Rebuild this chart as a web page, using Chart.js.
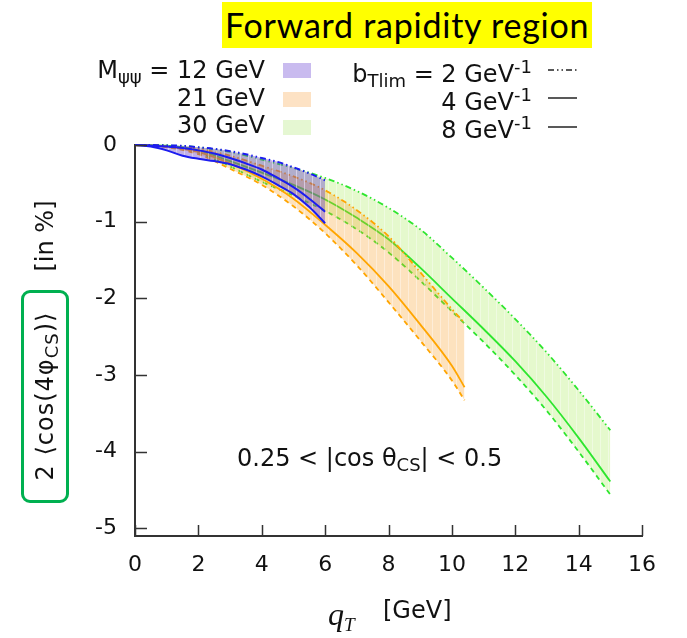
<!DOCTYPE html>
<html>
<head>
<meta charset="utf-8">
<script src="https://cdn.jsdelivr.net/npm/chart.js@4.4.0/dist/chart.umd.min.js"></script>
<style>
    html, body { margin: 0; padding: 0; background: #fff; }
    #wrap {
        position: relative; width: 687px; height: 638px; overflow: hidden;
        font-family: "DejaVu Sans", sans-serif; color: #111;
    }
    #chart { position: absolute; left: 0; top: 0; }
    .t { position: absolute; white-space: nowrap; font-size: 24px; line-height: 28px; }
    .t sub { font-size: 0.75em; vertical-align: -0.3em; line-height: 0; }
    .t sup { font-size: 0.75em; vertical-align: 0.5em; line-height: 0; }
    .title {
        position: absolute; left: 222px; top: 2px; height: 46px; line-height: 46px;
        padding: 0 3px; background: #ffff00; color: #000;
        font-family: Lato, "Open Sans", sans-serif; font-size: 34px; letter-spacing: 0.75px;
    }
    .swatch { position: absolute; left: 283px; width: 28px; height: 15px; }
    .rot { transform: translate(-50%, -50%) rotate(-90deg); }
    .ybox {
        position: absolute; left: 21px; top: 290px; width: 42px; height: 207px;
        border: 3px solid #00b050; border-radius: 9px;
    }
    .qt { font-family: "Liberation Serif", serif; font-style: italic; font-size: 32px; }
    .qt sub { font-size: 0.6em; vertical-align: -0.3em; }
    #keys { position: absolute; left: 0; top: 0; }
</style>
</head>
<body>
<div id="wrap">
    <canvas id="chart" width="687" height="638"></canvas>

    <div class="title">Forward rapidity region</div>

    <!-- mass legend -->
    <div class="t" style="right:422px;top:56px">M<sub>ψψ</sub> = 12 GeV</div>
    <div class="t" style="right:422px;top:84px">21 GeV</div>
    <div class="t" style="right:422px;top:111px">30 GeV</div>
    <div class="swatch" style="top:63px;background:#c9bbef"></div>
    <div class="swatch" style="top:92px;background:#fde2c4"></div>
    <div class="swatch" style="top:120px;background:#e5f7d2"></div>

    <!-- bTlim legend -->
    <div class="t" style="right:155px;top:60px">b<sub>Tlim</sub> = 2 GeV<sup>-1</sup></div>
    <div class="t" style="right:155px;top:88px">4 GeV<sup>-1</sup></div>
    <div class="t" style="right:155px;top:116px">8 GeV<sup>-1</sup></div>
    <svg id="keys" width="687" height="160">
        <line x1="548" y1="70" x2="577" y2="70" stroke="#222" stroke-width="1.5" stroke-dasharray="6 3 1.5 3 1.5 3"/>
        <line x1="548" y1="98" x2="577" y2="98" stroke="#222" stroke-width="1.5"/>
        <line x1="548" y1="127" x2="577" y2="127" stroke="#222" stroke-width="1.5"/>
    </svg>

    <!-- axis titles -->
    <div class="ybox"></div>
    <div class="t rot" style="left:45px;top:396px;letter-spacing:1px">2 ⟨cos(4φ<sub>CS</sub>)⟩</div>
    <div class="t rot" style="left:45px;top:236px">[in %]</div>
    <div class="t qt" style="left:328px;top:600px">q<sub>T</sub></div>
    <div class="t" style="left:383px;top:596px">[GeV]</div>

    <div class="t" style="left:237px;top:444px">0.25 &lt; |cos θ<sub>CS</sub>| &lt; 0.5</div>
</div>

<script>
// Axis ticks
const xTicks = [0, 2, 4, 6, 8, 10, 12, 14, 16];
const yTicks = [0, -1, -2, -3, -4, -5];

// M = 12 GeV (blue)
const qBlue = [0, 0.5, 1, 1.5, 2, 2.5, 3, 3.5, 4, 4.5, 5, 5.5, 6];
const blueB2 = [0, 0, -0.005, -0.01, -0.03, -0.05, -0.08, -0.12, -0.17, -0.22, -0.29, -0.37, -0.46];
const blueB4 = [0, -0.005, -0.02, -0.04, -0.07, -0.11, -0.17, -0.24, -0.32, -0.43, -0.55, -0.7, -0.87];
const blueB8 = [0, -0.02, -0.07, -0.14, -0.18, -0.21, -0.25, -0.32, -0.41, -0.52, -0.64, -0.81, -1.02];

// M = 21 GeV (orange)
const qOrange = [0, 1, 2, 3, 4, 5, 6, 7, 8, 9, 10, 10.4];
const orangeB2 = [0, -0.01, -0.05, -0.14, -0.27, -0.41, -0.59, -0.85, -1.19, -1.66, -2.14, -2.32];
const orangeB4 = [0, -0.02, -0.09, -0.24, -0.44, -0.7, -1.04, -1.41, -1.84, -2.34, -2.88, -3.16];
const orangeB8 = [0, -0.03, -0.12, -0.31, -0.52, -0.8, -1.15, -1.57, -2.05, -2.55, -3.07, -3.33];

// M = 30 GeV (green)
const qGreen = [0, 1, 2, 3, 4, 5, 6, 7, 8, 9, 10, 11, 12, 13, 14, 15];
const greenB2 = [0, -0.005, -0.03, -0.09, -0.19, -0.3, -0.43, -0.6, -0.82, -1.1, -1.47, -1.86, -2.27, -2.71, -3.2, -3.72];
const greenB4 = [0, -0.01, -0.07, -0.21, -0.36, -0.52, -0.71, -0.95, -1.23, -1.6, -2.0, -2.4, -2.82, -3.29, -3.82, -4.39];
const greenB8 = [0, -0.02, -0.1, -0.28, -0.48, -0.66, -0.86, -1.1, -1.4, -1.77, -2.17, -2.57, -3.0, -3.47, -4.0, -4.56];

const dashDot = [6, 3, 1.5, 3, 1.5, 3];
const dashed = [5, 4];

// Band fill with light vertical hatching
function hatch(color) {
    const c = document.createElement('canvas');
    c.width = 8;
    c.height = 8;
    const g = c.getContext('2d');
    g.fillStyle = color;
    g.fillRect(0, 0, 8, 8);
    g.fillStyle = 'rgba(255,255,255,0.4)';
    g.fillRect(0, 0, 1, 8);
    return g.createPattern(c, 'repeat');
}

function points(qs, vals) {
    return qs.map((q, i) => ({ x: q, y: vals[i] }));
}

function line(qs, vals, color, width, dash, fill, bg) {
    return {
        data: points(qs, vals),
        borderColor: color,
        borderWidth: width,
        borderDash: dash || [],
        backgroundColor: bg || 'transparent',
        fill: fill === undefined ? false : fill,
        pointRadius: 0,
        cubicInterpolationMode: 'monotone',
        clip: false
    };
}

// Inward tick marks, gnuplot style
const innerTicks = {
    id: 'innerTicks',
    afterDraw(chart) {
        const { ctx, chartArea, scales } = chart;
        ctx.save();
        ctx.strokeStyle = '#333';
        ctx.lineWidth = 1.5;
        ctx.beginPath();
        xTicks.forEach(v => {
            const x = Math.round(scales.x.getPixelForValue(v)) + 0.5;
            ctx.moveTo(x, chartArea.bottom);
            ctx.lineTo(x, chartArea.bottom - 11);
        });
        yTicks.forEach(v => {
            const y = Math.round(scales.y.getPixelForValue(v)) + 0.5;
            ctx.moveTo(chartArea.left, y);
            ctx.lineTo(chartArea.left + 12, y);
        });
        ctx.stroke();
        ctx.restore();
    }
};

document.addEventListener('DOMContentLoaded', () => {
    const blue = '#1c1cf0';
    const orange = '#ffa500';
    const green = '#2ee62e';

    const datasets = [
        line(qBlue, blueB2, blue, 2, dashDot),
        line(qBlue, blueB4, blue, 2),
        line(qBlue, blueB8, blue, 2, null, 0, hatch('rgba(100,60,200,0.4)')),
        line(qOrange, orangeB2, orange, 1.8, dashDot),
        line(qOrange, orangeB4, orange, 1.8),
        line(qOrange, orangeB8, orange, 1.8, dashed, 3, hatch('rgba(250,160,40,0.3)')),
        line(qGreen, greenB2, green, 1.8, dashDot),
        line(qGreen, greenB4, green, 1.8),
        line(qGreen, greenB8, green, 1.8, dashed, 6, hatch('rgba(170,235,90,0.3)'))
    ];

    const tickFont = { family: 'DejaVu Sans', size: 22 };

    new Chart(document.getElementById('chart'), {
        type: 'line',
        data: { datasets },
        options: {
            responsive: false,
            animation: false,
            layout: { padding: { top: 145, right: 45, left: 0, bottom: 0 } },
            plugins: {
                legend: { display: false },
                tooltip: { enabled: false }
            },
            scales: {
                x: {
                    type: 'linear',
                    min: 0,
                    max: 16,
                    grid: { display: false, drawTicks: false },
                    border: { display: true, color: '#333', width: 2 },
                    ticks: { font: tickFont, color: '#111', padding: 16 },
                    afterBuildTicks: s => { s.ticks = xTicks.map(v => ({ value: v })); },
                    afterFit: s => { s.height = 102; }
                },
                y: {
                    type: 'linear',
                    min: -5.1,
                    max: 0,
                    grid: { display: false, drawTicks: false },
                    border: { display: true, color: '#333', width: 2 },
                    ticks: { font: tickFont, color: '#111', padding: 18 },
                    afterBuildTicks: s => { s.ticks = yTicks.map(v => ({ value: v })); },
                    afterFit: s => { s.width = 135; }
                }
            }
        },
        plugins: [innerTicks]
    });
});
</script>
</body>
</html>
